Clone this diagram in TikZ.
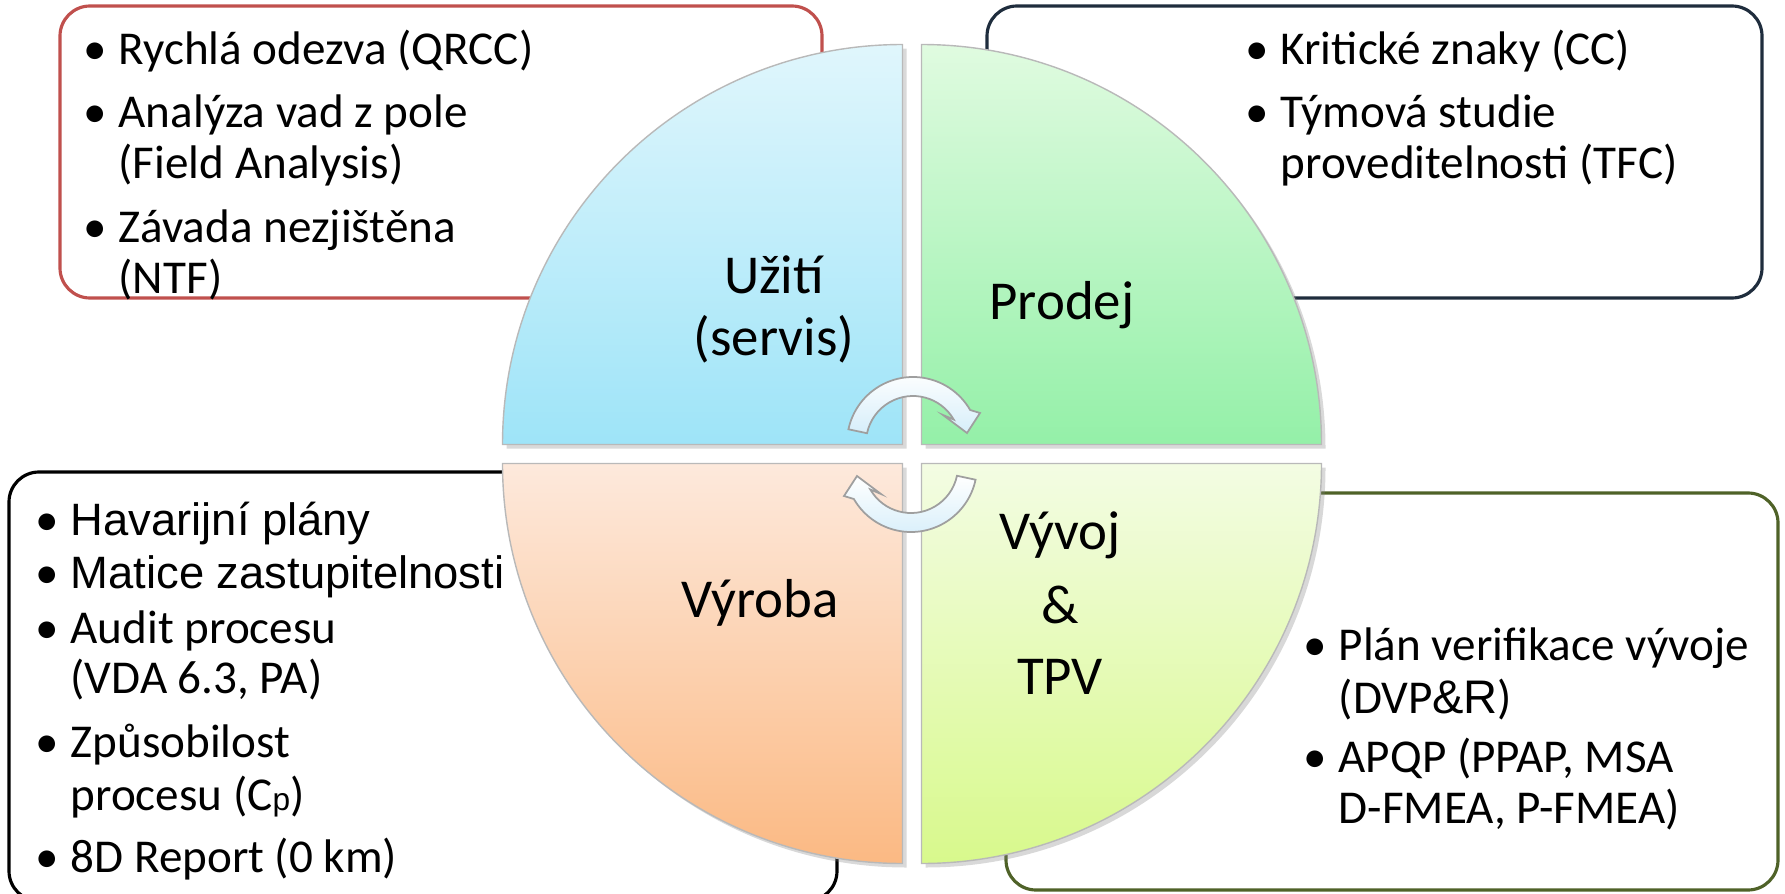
\documentclass[tikz,border=0pt]{standalone}
\usepackage{fontspec}
\setmainfont{Carlito}
\newfontfamily\arialfont{Liberation Sans}
\usetikzlibrary{shadows}
\def\rad{400}
\definecolor{useTop}{HTML}{E0F6FC}
\definecolor{useBot}{HTML}{9EE4F8}
\definecolor{saleTop}{HTML}{E0FBE0}
\definecolor{saleBot}{HTML}{94F0A8}
\definecolor{prodTop}{HTML}{FDE9DC}
\definecolor{prodBot}{HTML}{FBB983}
\definecolor{devTop}{HTML}{F3FCE3}
\definecolor{devBot}{HTML}{D8F98C}
\definecolor{arrowBlue}{HTML}{D6EEFA}
\definecolor{redline}{HTML}{C0504D}
\definecolor{navyline}{HTML}{1F2D3D}
\definecolor{oliveline}{HTML}{4F6228}
\newcommand\bul{\llap{{\rmfamily\fontsize{13.4}{16}\selectfont\textbullet}\hspace{0.12cm}}}

\tikzset{
  listbox/.style={rounded corners=0.3cm, line width=0.9pt, fill=white},
  quarter/.style={draw=gray!55, line width=0.4pt,
    drop shadow={opacity=0.3, shadow xshift=0.04cm, shadow yshift=-0.04cm}},
  cyclearrow/.style={draw=gray!75, line width=0.5pt, top color=white, bottom color=arrowBlue},
  phase/.style={inner sep=0pt, font=\fontsize{15.6}{18}\selectfont},
  itemline/.style={anchor=base west, inner sep=0pt, font=\fontsize{13.4}{16}\selectfont},
  arialline/.style={anchor=base west, inner sep=0pt, font=\arialfont\fontsize{12.9}{15}\selectfont}
}

\begin{document}
\begin{tikzpicture}[x=0.01cm, y=0.01cm]
    \useasboundingbox (0,0) rectangle (1785,893);
    % boxes behind the circle
    \draw[listbox, draw=redline] (60,595) rectangle (822,887);
    \draw[listbox, draw=navyline] (987,595) rectangle (1762,887);
    \draw[listbox, draw=black] (9,-8) rectangle (837,421);
    \draw[listbox, draw=oliveline] (1006,3) rectangle (1778,400);

    % four quarters
    \shadedraw[quarter, top color=useTop, bottom color=useBot]
      (902.5,448.5) -- ++(-\rad,0) arc[start angle=180, end angle=90, radius=\rad] -- cycle;
    \shadedraw[quarter, top color=saleTop, bottom color=saleBot]
      (921.5,448.5) -- ++(0,\rad) arc[start angle=90, end angle=0, radius=\rad] -- cycle;
    \shadedraw[quarter, top color=prodTop, bottom color=prodBot]
      (902.5,429.5) -- ++(-\rad,0) arc[start angle=180, end angle=270, radius=\rad] -- cycle;
    \shadedraw[quarter, top color=devTop, bottom color=devBot]
      (921.5,429.5) -- ++(0,-\rad) arc[start angle=270, end angle=360, radius=\rad] -- cycle;

    % cycle arrows
    \foreach \cx/\cy/\r in {913/450/0, 911/427/180} {
      \shadedraw[cyclearrow, shift={(\cx,\cy)}, rotate=\r]
        (168:66) arc[start angle=168, end angle=30, radius=66] -- (67,30) -- (54,10)
        -- (30,28) -- (30:47) arc[start angle=30, end angle=168, radius=47] -- cycle;
    }

    % phase labels
    \node[phase] (use1) at (774,618) {Užití};
    \node[phase] (use2) at (774,554) {(servis)};
    \node[phase] (sale) at (1062,588) {Prodej};
    \node[phase] (prod) at (760,290) {Výroba};
    \node[phase] (dev1) at (1060,358) {Vývoj};
    \node[phase] (dev2) at (1060,288) {\&};
    \node[phase] (dev3) at (1060,216) {TPV};

    % lists
    \foreach \b/\t/\y [count=\i] in {1/Rychlá odezva (QRCC)/828, 1/Analýza vad z pole/765,
        0/(Field Analysis)/715, 1/Závada nezjištěna/651, 0/(NTF)/600}
      \node[itemline] (tl\i) at (118,\y) {\ifnum\b=1 \bul\fi\t};
    \foreach \b/\t/\y [count=\i] in {1/Kritické znaky (CC)/828, 1/Týmová studie/765,
        0/proveditelnosti (TFC)/715}
      \node[itemline] (tr\i) at (1280,\y) {\ifnum\b=1 \bul\fi\t};
    \foreach \b/\t/\y [count=\i] in {1/Havarijní plány/358, 1/Matice zastupitelnosti/305}
      \node[arialline] (bl\i) at (70,\y) {\ifnum\b=1 \bul\fi\t};
    \foreach \b/\t/\y [count=\i from 3] in {1/Audit procesu/250, 0/{(VDA 6.3, PA)}/200,
        1/Způsobilost/136, 0/{procesu (C{\arialfont\fontsize{9}{10}\selectfont p})}/83,
        1/{8D Report (0 km)}/21}
      \node[itemline] (bl\i) at (70,\y) {\ifnum\b=1 \bul\fi\t};
    \foreach \b/\t/\y [count=\i] in {1/Plán verifikace vývoje/233, 0/{(DVP{\arialfont\&R})}/180,
        1/{APQP (PPAP, MSA}/121, 0/{D-FMEA, P-FMEA)}/70}
      \node[itemline] (br\i) at (1338,\y) {\ifnum\b=1 \bul\fi\t};
\end{tikzpicture}
\end{document}
